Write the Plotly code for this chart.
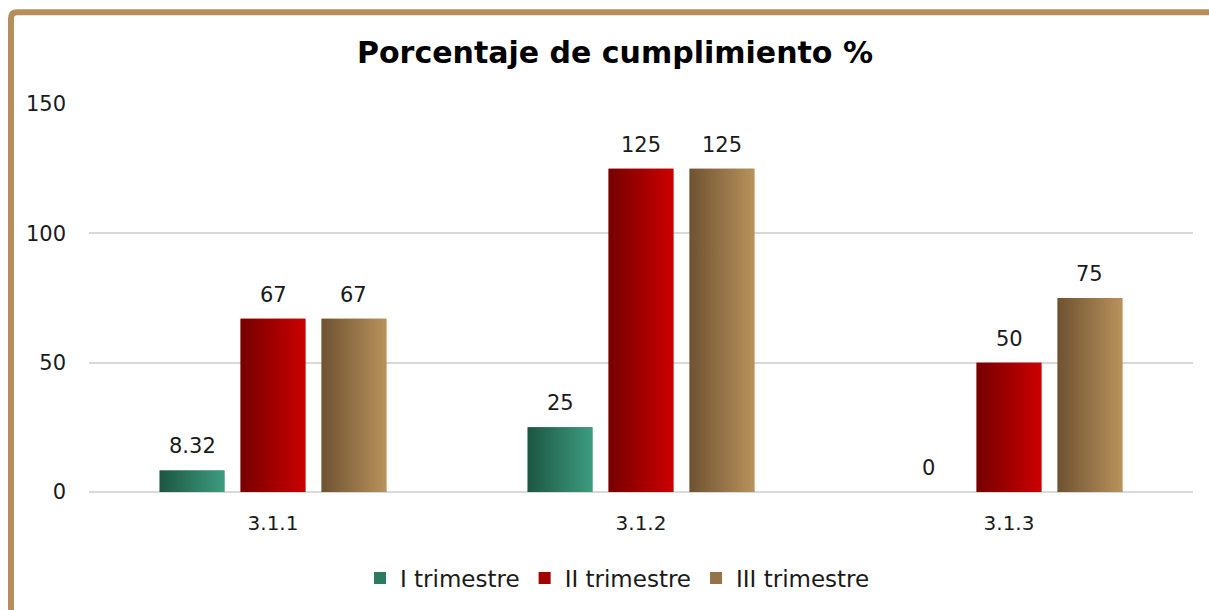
import plotly.graph_objects as go

categories = ["3.1.1", "3.1.2", "3.1.3"]
series_names = ["I trimestre", "II trimestre", "III trimestre"]
s1 = [8.32, 25, 0]
s2 = [67, 125, 50]
s3 = [67, 125, 75]
labels1 = ["8.32", "25", "0"]
labels2 = ["67", "125", "50"]
labels3 = ["67", "125", "75"]
y_ticks = [0, 50, 100, 150]

values = [s1, s2, s3]
labels = [labels1, labels2, labels3]
dark = ["#1d5642", "#760000", "#6e5231"]
light = ["#3d9c80", "#cc0000", "#b9925c"]
mid = ["#2d7a62", "#a30000", "#94724a"]
offsets = [-0.22, 0.0, 0.22]
bw = 0.176

FONT = "DejaVu Sans"
xs = list(range(len(categories)))

fig = go.Figure()
for i in range(3):
    fig.add_trace(go.Bar(
        x=xs, y=values[i], name=series_names[i],
        width=bw, offset=[offsets[i] - bw / 2] * len(xs),
        marker=dict(color=mid[i], line=dict(width=0)),
        hoverinfo="y+name",
    ))

# gradient overlays, one per bar, derived from the data
for i in range(3):
    for j, v in enumerate(values[i]):
        if v <= 0:
            continue
        x0 = xs[j] + offsets[i] - bw / 2
        x1 = xs[j] + offsets[i] + bw / 2
        fig.add_trace(go.Scatter(
            x=[x0, x1, x1, x0, x0], y=[0, 0, v, v, 0],
            mode="lines", fill="toself", line=dict(width=0),
            fillcolor=mid[i],
            fillgradient=dict(type="horizontal",
                              colorscale=[[0, dark[i]], [1, light[i]]]),
            showlegend=False, hoverinfo="skip",
        ))

annotations = []
for i in range(3):
    for j, v in enumerate(values[i]):
        annotations.append(dict(
            x=xs[j] + offsets[i], y=v, xref="x", yref="y",
            text=labels[i][j], showarrow=False, yanchor="bottom",
            yshift=10, font=dict(family=FONT, size=21, color="#1a1a1a"),
        ))

# frame border (left + top, rounded corner)
def px2paper_x(p):
    return (p - 89) / 1104

def px2paper_y(p):
    return (493 - p) / 389

xl, yt = px2paper_x(11), px2paper_y(12)
xr, yb = px2paper_x(1230), px2paper_y(640)
rx, ry = 6 / 1104, 6 / 389
path = (f"M {xl},{yb} L {xl},{yt - ry} Q {xl},{yt} {xl + rx},{yt} L {xr},{yt}")

fig.update_layout(
    width=1209, height=610,
    margin=dict(l=89, r=16, t=104, b=117),
    paper_bgcolor="white", plot_bgcolor="white",
    barmode="overlay",
    title=dict(text="<b>Porcentaje de cumplimiento %</b>",
               x=615 / 1209, xref="container", xanchor="center",
               y=1 - 52 / 610, yref="container", yanchor="middle",
               font=dict(family=FONT, size=30, color="#000000")),
    font=dict(family=FONT, size=21, color="#1a1a1a"),
    xaxis=dict(range=[-0.5, 2.5], tickvals=xs, ticktext=categories,
               showgrid=False, zeroline=False, showline=False,
               ticks="", ticklabelstandoff=17,
               tickfont=dict(family=FONT, size=20, color="#1a1a1a")),
    yaxis=dict(range=[0, 150], tickvals=y_ticks, showgrid=True,
               gridcolor="#d9d9d9", gridwidth=2, zeroline=True,
               zerolinecolor="#d9d9d9", zerolinewidth=2, showline=False,
               ticks="", ticklabelstandoff=22,
               tickfont=dict(family=FONT, size=21, color="#1a1a1a")),
    legend=dict(orientation="h", x=0.5 - 23.5 / 1104, xanchor="center",
                y=px2paper_y(578), yanchor="middle",
                font=dict(family=FONT, size=23, color="#1a1a1a"),
                itemwidth=30),
    annotations=annotations,
    shapes=[dict(type="path", path=path, xref="paper", yref="paper",
                 line=dict(color="#b48f5c", width=6), layer="above")],
    showlegend=True,
)

fig.write_html("out.html",
               config={"displayModeBar": False},
               post_script="document.body.style.margin='0';"
                           "document.documentElement.style.margin='0';")
